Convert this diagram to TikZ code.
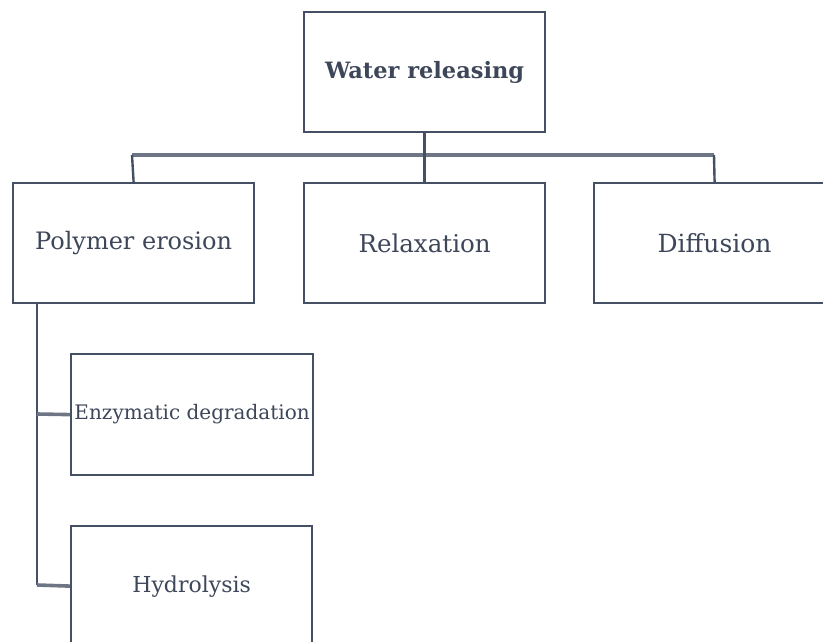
\documentclass[tikz,border=0pt]{standalone}
\usepackage{fontspec}
\setmainfont{DejaVu Serif}
\definecolor{linec}{HTML}{465064}
\definecolor{busc}{HTML}{6E7686}
\definecolor{textc}{HTML}{3E4759}
\newcommand{\fsz}[1]{\fontsize{#1}{#1}\selectfont}
\begin{document}
\begin{tikzpicture}[x=1pt,y=-1pt,
  box/.style={draw=linec,line width=2.2pt,fill=white,minimum width=241pt,minimum height=120pt,inner sep=0pt,anchor=north west,text=textc,font=\fsz{24}},
  conn/.style={draw=linec,line width=2.4pt},
  bus/.style={draw=busc,line width=3.6pt}]
\useasboundingbox (0,0) rectangle (823,641);
\clip (0,0) rectangle (823,641);
\node[box,font=\fsz{22.5}\bfseries] (top) at (303,11) {Water releasing};
\node[box,font=\fsz{24}] (poly) at (12,182) {Polymer erosion};
\node[box,font=\fsz{24.5}] (relax) at (303,182) {Relaxation};
\node[box,font=\fsz{25}] (diff) at (593,182) {Diffusion};
\node[box,font=\fsz{20},minimum width=242pt,minimum height=121pt] (enz) at (70,353) {Enzymatic degradation};
\node[box,font=\fsz{22}] (hyd) at (70,525) {Hydrolysis};
\coordinate (busA) at (132,155);
\coordinate (busB) at (714,155);
\coordinate (trunk) at (37,302);
\coordinate (stubE) at (37,414);
\coordinate (stubH) at (37,585);
\draw[bus] (busA) -- (busB);
\draw[conn] (top.south) -- (relax.north);
\draw[conn] (busA) -- (poly.north);
\draw[conn] (busB) -- (diff.north);
\draw[conn] (trunk) -- (stubH);
\draw[bus] (stubE) -- (enz.west);
\draw[bus] (stubH) -- (hyd.west);
\end{tikzpicture}
\end{document}
